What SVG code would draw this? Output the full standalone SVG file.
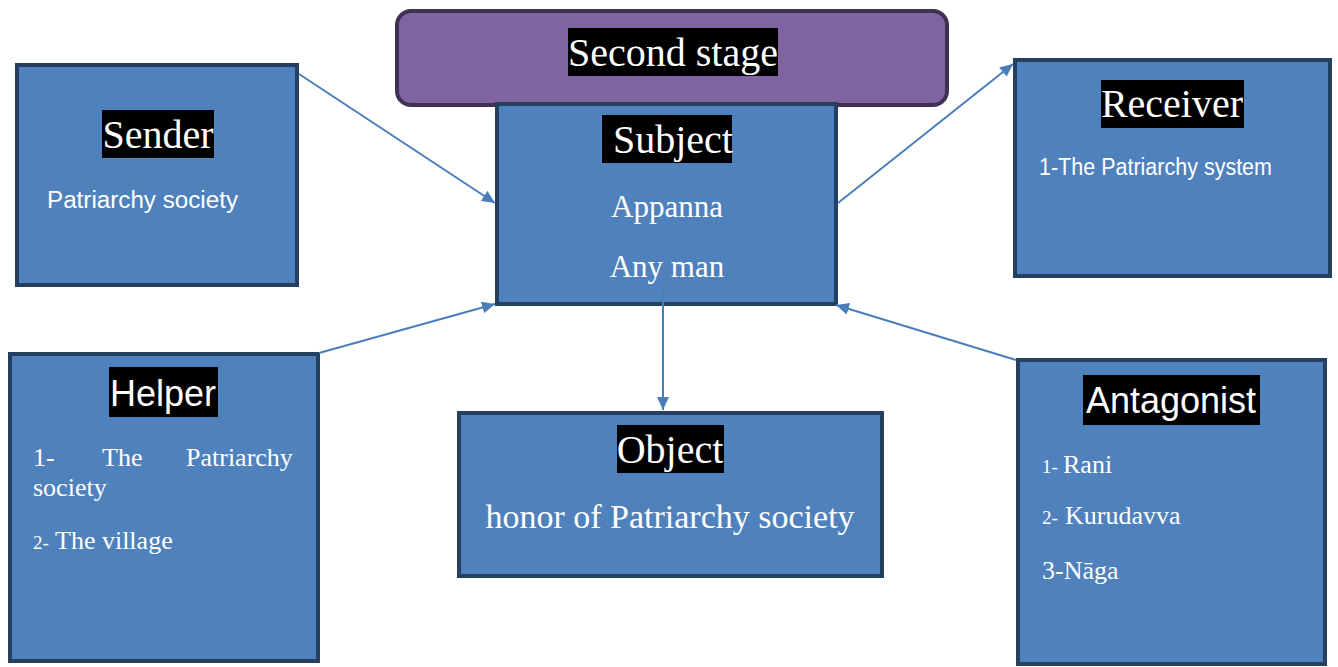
<svg xmlns="http://www.w3.org/2000/svg" width="1338" height="667" viewBox="0 0 1338 667">
<style>
.box{fill:#4f81bd;stroke:#243f60;stroke-width:4}
.stage{fill:#8064a2;stroke:#3f3151;stroke-width:4}
.lbl{fill:#000}
.ts{font-family:"Liberation Serif","Times New Roman",serif;fill:#fff}
.ss{font-family:"Liberation Sans",Arial,sans-serif;fill:#fff}
.h{font-size:40px}
.c{text-anchor:middle}
.conn{stroke:#4a7ebb;stroke-width:2;fill:none}
</style>
<defs>
<marker id="arr" markerUnits="userSpaceOnUse" markerWidth="14" markerHeight="12" refX="13" refY="6" orient="auto">
<path d="M0,0 L13,6 L0,12 z" fill="#4a7ebb"/>
</marker>
</defs>
<rect width="1338" height="667" fill="#fff"/>
<g id="stage">
<rect class="stage" x="397" y="11" width="550" height="94" rx="14"/>
<rect class="lbl" x="568" y="28" width="210" height="48"/>
<text class="ts h c" x="673" y="66">Second stage</text>
</g>
<g id="sender">
<rect class="box" x="17" y="65" width="280" height="220"/>
<rect class="lbl" x="102" y="110" width="112" height="48"/>
<text class="ts h c" x="158" y="148">Sender</text>
<text class="ss" x="47" y="208" font-size="23" textLength="191" lengthAdjust="spacingAndGlyphs">Patriarchy society</text>
</g>
<g id="subject">
<rect class="box" x="497" y="104" width="339" height="200"/>
<rect class="lbl" x="602" y="115" width="130" height="48"/>
<text class="ts h" x="613" y="153">Subject</text>
<text class="ts c" x="667" y="217" font-size="31">Appanna</text>
<text class="ts c" x="667" y="277" font-size="31">Any man</text>
</g>
<g id="receiver">
<rect class="box" x="1015" y="60" width="315" height="216"/>
<rect class="lbl" x="1101" y="80" width="143" height="48"/>
<text class="ts h c" x="1172" y="117">Receiver</text>
<text class="ss" x="1039" y="175" font-size="23" textLength="233" lengthAdjust="spacingAndGlyphs">1-The Patriarchy system</text>
</g>
<g id="helper">
<rect class="box" x="10" y="354" width="308" height="307"/>
<rect class="lbl" x="109" y="367" width="109" height="50"/>
<text class="ss c" x="163" y="406" font-size="36">Helper</text>
<text class="ts" x="33" y="466" font-size="26">1-</text>
<text class="ts" x="102" y="466" font-size="26">The</text>
<text class="ts" x="186" y="466" font-size="26">Patriarchy</text>
<text class="ts" x="33" y="496" font-size="26">society</text>
<text class="ts" x="33" y="549" font-size="19">2-</text>
<text class="ts" x="55" y="549" font-size="26">The village</text>
</g>
<g id="object">
<rect class="box" x="459" y="413" width="423" height="163"/>
<rect class="lbl" x="617" y="425" width="107" height="48"/>
<text class="ts h c" x="670" y="463">Object</text>
<text class="ts c" x="670" y="528" font-size="34">honor of Patriarchy society</text>
</g>
<g id="antagonist">
<rect class="box" x="1018" y="360" width="307" height="304"/>
<rect class="lbl" x="1083" y="375" width="177" height="50"/>
<text class="ss c" x="1171" y="413" font-size="36">Antagonist</text>
<text class="ts" x="1042" y="473" font-size="19">1-</text>
<text class="ts" x="1063" y="473" font-size="26">Rani</text>
<text class="ts" x="1042" y="524" font-size="19">2-</text>
<text class="ts" x="1065" y="524" font-size="26">Kurudavva</text>
<text class="ts" x="1042" y="579" font-size="26">3-Nāga</text>
</g>
<g id="connectors">
<line class="conn" x1="299" y1="74" x2="495" y2="203" marker-end="url(#arr)"/>
<line class="conn" x1="838" y1="203" x2="1013" y2="64" marker-end="url(#arr)"/>
<line class="conn" x1="319" y1="353" x2="495" y2="304" marker-end="url(#arr)"/>
<line class="conn" x1="1016" y1="360" x2="836" y2="305" marker-end="url(#arr)"/>
<line class="conn" x1="663" y1="286" x2="663" y2="410" marker-end="url(#arr)"/>
</g>
</svg>
